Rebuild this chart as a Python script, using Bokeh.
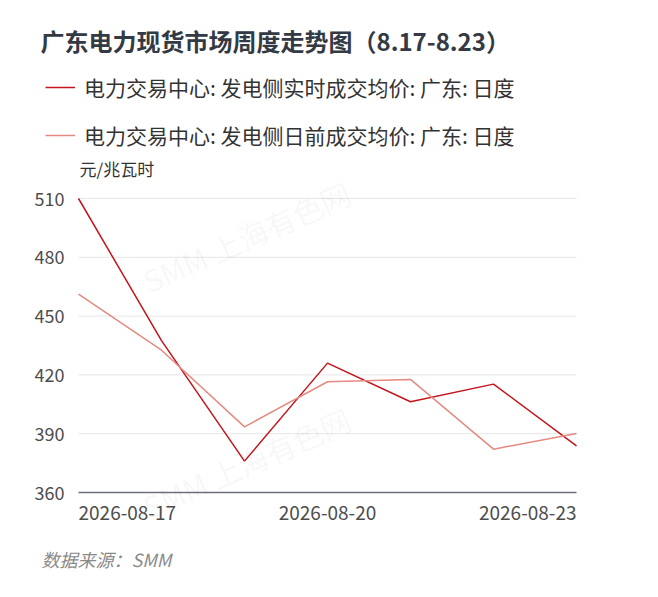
from datetime import datetime, timedelta
from bokeh.plotting import figure
from bokeh.models import (Range1d, Label, Legend, LegendItem, ColumnDataSource)
from bokeh.embed import file_html
from bokeh.resources import INLINE

# ---- data ----
dates = ["2026-08-17", "2026-08-18", "2026-08-19", "2026-08-20",
         "2026-08-21", "2026-08-22", "2026-08-23"]
realtime_price = [510.0, 437.5, 376.0, 426.0, 406.3, 415.3, 383.8]
dayahead_price = [461.2, 432.6, 393.5, 416.5, 417.7, 382.1, 390.1]
y_ticks = [360, 390, 420, 450, 480, 510]
x_tick_labels = ["2026-08-17", "2026-08-20", "2026-08-23"]

title_text = "广东电力现货市场周度走势图（8.17-8.23）"
series_names = ["电力交易中心: 发电侧实时成交均价: 广东: 日度",
                "电力交易中心: 发电侧日前成交均价: 广东: 日度"]
unit_text = "元/兆瓦时"
source_text = "数据来源：SMM"
watermark_text = "SMM 上海有色网"

# ---- style / layout ----
FONT = "Noto Sans CJK SC"
RED = "#c4141c"
PINK = "#e48a80"
W, H = 642, 575
FL, FR, FT, FB = 78, 576, 198, 492   # plotting area inside canvas (px)
Y0, Y1 = 360, 510

x = [datetime.strptime(d, "%Y-%m-%d") for d in dates]
ndays = (x[-1] - x[0]).days
ppd = (FR - FL) / ndays
ppu = (FB - FT) / (Y1 - Y0)
x_range = Range1d(x[0] - timedelta(days=FL / ppd),
                  x[-1] + timedelta(days=(W - FR) / ppd))
y_range = Range1d(Y0 - (H - FB) / ppu, Y1 + FT / ppu)

src = ColumnDataSource(dict(x=x, rt=realtime_price, da=dayahead_price))

p = figure(x_axis_type="datetime", frame_width=W, frame_height=H,
           min_border=0, x_axis_location=None, y_axis_location=None,
           output_backend="svg", toolbar_location=None,
           x_range=x_range, y_range=y_range)
p.outline_line_color = None
p.grid.grid_line_color = None
p.background_fill_color = "white"
p.border_fill_color = "white"

# watermarks
for wy in [339, 113]:
    p.add_layout(Label(x=246, y=wy, x_units="screen", y_units="screen",
                       text=watermark_text, angle=0.42, text_align="center",
                       text_baseline="middle", text_font=FONT,
                       text_font_size="30px", text_color="#000000",
                       text_alpha=0.045))

# horizontal grid lines + x axis line
grid_y = [t for t in y_ticks if t != Y0]
p.segment(x0=[x[0]] * len(grid_y), x1=[x[-1]] * len(grid_y),
          y0=grid_y, y1=grid_y, line_color="#e6e6e6", line_width=1)
p.segment(x0=[x[0]], x1=[x[-1]], y0=[Y0], y1=[Y0],
          line_color="#6e7079", line_width=1.5)

r1 = p.line("x", "rt", source=src, line_color=RED, line_width=1.5)
r2 = p.line("x", "da", source=src, line_color=PINK, line_width=1.5)

# y tick labels
for t in y_ticks:
    p.add_layout(Label(x=x[0], y=t, text=str(t), text_align="right",
                       text_baseline="middle", x_offset=-14,
                       text_font=FONT, text_font_size="18px",
                       text_color="#4d4d4d"))

# x tick labels
aligns = ["left", "center", "right"]
for lab, al in zip(x_tick_labels, aligns):
    p.add_layout(Label(x=datetime.strptime(lab, "%Y-%m-%d"), y=Y0,
                       text=lab, text_align=al, text_baseline="top",
                       y_offset=-13, text_font=FONT, text_font_size="19px",
                       text_color="#4d4d4d"))

legend = Legend(items=[LegendItem(label=series_names[0], renderers=[r1]),
                       LegendItem(label=series_names[1], renderers=[r2])],
                location=(45, 425), orientation="vertical",
                glyph_width=30, glyph_height=30, label_height=30,
                label_standoff=9, spacing=18, padding=0, margin=0,
                border_line_color=None, background_fill_alpha=0,
                label_text_font=FONT, label_text_font_size="21px",
                label_text_color="#333333")
p.add_layout(legend)

p.add_layout(Label(x=40, y=535, x_units="screen", y_units="screen",
                   text=title_text, text_baseline="middle", text_font=FONT,
                   text_font_size="24px", text_font_style="bold",
                   text_color="#333a44"))
p.add_layout(Label(x=79, y=407, x_units="screen", y_units="screen",
                   text=unit_text, text_baseline="middle", text_font=FONT,
                   text_font_size="17px", text_color="#333333"))
p.add_layout(Label(x=41, y=17, x_units="screen", y_units="screen",
                   text=source_text, text_baseline="middle", text_font=FONT,
                   text_font_size="18px", text_font_style="italic",
                   text_color="#8a8a8a"))

open("out.html", "w").write(file_html(p, INLINE))
